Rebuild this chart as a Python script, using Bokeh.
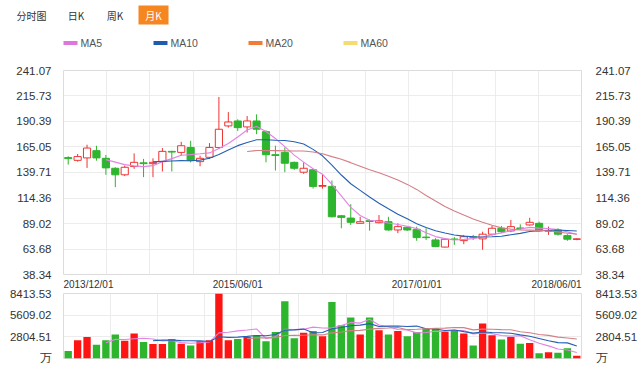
import pandas as pd
from bokeh.plotting import figure
from bokeh.layouts import column
from bokeh.models import ColumnDataSource, FixedTicker, LinearAxis, Range1d, NumeralTickFormatter
from bokeh.core.properties import value
from bokeh.embed import file_html
from bokeh.resources import INLINE

# ---------------- data ----------------
months = [d.strftime("%Y/%m/%d") for d in pd.date_range("2013-12-01", "2018-06-01", freq="MS")]
x_tick_labels = ["2013/12/01", "2015/06/01", "2017/01/01", "2018/06/01"]
price_ticks = [38.34, 63.68, 89.02, 114.36, 139.71, 165.05, 190.39, 215.73, 241.07]
volume_ticks = [0, 2804.51, 5609.02, 8413.53]
tabs = ["分时图", "日K", "周K", "月K"]
ma_names = ["MA5", "MA10", "MA20", "MA60"]

open_ = [154.5, 151.8, 154.2, 161.4, 153.8, 143.9, 137.4, 145.6, 149.3, 148.5,
         150.5, 160.7, 159.7, 164.6, 150.5, 154.8, 164.6, 186.0, 190.9, 185.0,
         190.9, 180.3, 157.4, 159.7, 149.8, 140.0, 142.4, 126.0, 125.9, 96.7,
         94.4, 89.2, 91.8, 89.8, 90.8, 82.6, 85.3, 83.3, 75.5, 72.7,
         65.6, 73.6, 72.0, 75.9, 73.7, 78.4, 84.3, 81.6, 84.6, 87.6,
         89.2, 81.4, 82.6, 77.0, 73.2]
high = [155.8, 158.1, 167.3, 166.3, 157.1, 144.9, 146.6, 158.7, 153.2, 153.8,
        164.0, 161.3, 170.2, 171.2, 156.4, 168.9, 214.8, 199.7, 192.6, 195.8,
        197.5, 181.7, 166.3, 164.6, 150.5, 149.8, 143.4, 137.7, 131.8, 97.4,
        108.2, 95.7, 93.1, 97.4, 95.7, 89.2, 85.9, 85.9, 84.3, 74.4,
        74.4, 75.5, 77.7, 77.7, 80.9, 86.9, 86.6, 92.5, 88.2, 94.7,
        90.8, 85.9, 84.3, 78.4, 74.4]
low = [147.6, 150.5, 144.3, 151.5, 137.4, 125.2, 136.1, 143.3, 135.1, 135.1,
       140.7, 140.7, 156.4, 149.8, 145.9, 153.2, 163.0, 184.3, 181.0, 179.4,
       177.8, 149.8, 141.7, 140.0, 142.3, 138.4, 123.7, 123.7, 95.1, 84.3,
       87.6, 89.2, 81.9, 89.2, 81.9, 79.4, 81.6, 71.8, 72.7, 65.5,
       65.2, 67.8, 68.5, 72.7, 62.9, 77.0, 79.4, 80.4, 82.6, 86.9,
       80.9, 77.7, 77.0, 71.8, 72.4]
close = [153.5, 155.5, 164.0, 154.2, 144.3, 137.4, 144.9, 149.8, 148.5, 149.8,
         160.7, 160.0, 166.3, 151.5, 153.8, 164.6, 182.7, 189.9, 184.3, 190.9,
         182.7, 157.4, 156.6, 148.9, 143.9, 143.9, 125.9, 126.8, 95.7, 95.1,
         90.2, 90.8, 91.0, 91.8, 82.6, 85.9, 82.6, 75.0, 75.0, 66.1,
         73.4, 73.1, 75.9, 75.3, 78.4, 84.3, 80.9, 85.9, 84.0, 90.2,
         81.6, 81.9, 78.4, 73.4, 73.8]
volume = [983, 2352, 2791, 1781, 2352, 3110, 2312, 3243, 2126, 1861,
          1861, 2525, 1914, 1688, 2219, 2352, 8413.53, 2352, 2525, 2791,
          3017, 2219, 3416, 7403, 2618, 3323, 3548, 2884, 7310, 4306,
          5316, 3110, 5316, 3641, 3110, 3548, 2884, 3416, 3907, 3907,
          3455, 3641, 3243, 1688, 4519, 3017, 2445, 2791, 1914, 1994,
          665, 797, 758, 1329, 359]

ma5 = [152.5, 150.0, 147.5, 146.3, 145.5, 146.5, 150.5, 153.5, 156.8, 157.5,
       158.3, 159.2, 163.5, 168.5, 175.0, 182.0, 185.5, 180.5, 173.5, 165.5,
       157.0, 150.0, 143.5, 138.0, 128.0, 116.5, 105.0, 97.0, 92.3, 91.3,
       89.5, 88.0, 86.3, 84.0, 79.8, 76.0, 74.0, 72.7, 73.2, 74.0,
       75.6, 77.9, 79.7, 81.8, 83.5, 85.2, 84.4, 84.0, 82.9, 80.7, 78.1]
ma10 = [150.3, 150.8, 151.2, 151.5, 151.4, 152.0, 153.8, 157.5, 162.0, 166.4,
        169.5, 172.2, 172.3, 171.7, 171.5, 170.3, 168.0, 162.7, 156.3, 147.0,
        137.2, 128.5, 121.9, 115.3, 109.2, 103.7, 98.3, 93.7, 88.8, 85.0,
        81.8, 79.5, 77.6, 76.5, 75.8, 75.6, 75.9, 76.4, 77.8, 79.2,
        81.0, 81.8, 82.3, 82.4, 82.1, 81.5]
ma20 = [160.5, 161.5, 161.6, 161.4, 161.2, 161.0, 161.0, 160.0, 158.3, 155.5,
        152.8, 149.5, 146.0, 142.5, 139.4, 136.0, 132.3, 127.9, 122.9, 116.9,
        111.3, 106.0, 101.5, 97.4, 93.6, 90.3, 87.2, 84.7, 83.4, 82.6,
        82.4, 82.2, 81.6, 80.5, 79.3, 78.6]
vol_ma5 = [2052, 2477, 2469, 2560, 2629, 2530, 2281, 2323, 2057, 1970,
           2041, 2140, 3317, 3405, 3572, 3687, 3820, 2581, 2794, 3769,
           3735, 3796, 4062, 3955, 3937, 4274, 4673, 4585, 5072, 4338,
           4099, 3745, 3700, 3320, 3373, 3532, 3514, 3665, 3631, 3187,
           3309, 3222, 2982, 2892, 2937, 2432, 1962, 1632, 1226, 1109, 782]
vol_ma10 = [2291, 2379, 2396, 2309, 2299, 2286, 2210, 2820, 2731, 2771,
            2864, 2980, 2949, 3099, 3671, 3711, 3808, 3321, 3374, 3853,
            4004, 4234, 4323, 4513, 4137, 4186, 4209, 4143, 4196, 3855,
            3816, 3629, 3683, 3475, 3280, 3421, 3368, 3324, 3261, 3062,
            2871, 2592, 2307, 2059, 2023, 1607]
vol_ma20 = [2578, 2679, 2673, 2704, 2985, 2998, 3009, 3071, 3053, 3312,
            3434, 3607, 3636, 3806, 3904, 3949, 4008, 3732, 3785, 3854,
            3910, 3932, 4003, 3994, 3709, 3804, 3788, 3733, 3729, 3459,
            3343, 3111, 2995, 2767, 2651, 2514]

# ---------------- styles ----------------
RED_LINE = "#ee3333"
RED_BAR = "#ff1414"
GREEN = "#2db52d"
C_MA5 = "#e383e3"
C_MA10 = "#2360b3"
C_MA20 = "#d47f86"
LEG_COLORS = ["#dd77dd", "#1f5cb0", "#f27b35", "#f6da73"]
GRID = "#ececec"
OUTLINE = "#dcdcdc"
LABEL = "#333333"
FONT = "Liberation Sans"
W = 640

n = len(close)
xs = list(range(n))
up = [c >= o for o, c in zip(open_, close)]
src = ColumnDataSource(dict(
    x=xs, high=high, low=low,
    top=[max(o, c) for o, c in zip(open_, close)],
    bottom=[min(o, c) for o, c in zip(open_, close)],
    fill=["#ffffff" if u else GREEN for u in up],
    line=[RED_LINE if u else GREEN for u in up],
    vol=volume,
    vcol=[RED_BAR if u else GREEN for u in up],
))

def style_axis(ax, standoff, size="11.5px"):
    ax.axis_line_color = None
    ax.major_tick_line_color = None
    ax.minor_tick_line_color = None
    ax.major_label_standoff = standoff
    ax.major_label_text_font = FONT
    ax.major_label_text_font_size = size
    ax.major_label_text_color = LABEL

# ---------------- header ----------------
hdr = figure(width=W, height=61, x_range=Range1d(0, W), y_range=Range1d(61, 0),
             output_backend="svg", toolbar_location=None, min_border=0,
             x_axis_location=None, y_axis_location=None, outline_line_color=None)
hdr.frame_align = False
hdr.grid.visible = False
hdr.quad(left=[138], right=[168], top=[5], bottom=[24], fill_color="#f6861f", line_color=None)
tab_x = [31, 75.5, 114.5, 153]
tab_col = ["#333333", "#333333", "#333333", "#ffffff"]
hdr.text(x=tab_x, y=[14.8] * 4, text=tabs, text_color=tab_col, text_font=value("Noto Sans CJK SC"),
         text_font_size="10px", text_align="center", text_baseline="middle")
sw_x = [63, 153, 248, 343]
hdr.quad(left=sw_x, right=[s + 14 for s in sw_x], top=[40.5] * 4, bottom=[44.5] * 4,
         fill_color=LEG_COLORS, line_color=None)
hdr.text(x=[s + 17 for s in sw_x], y=[42.6] * 4, text=ma_names, text_color="#555555",
         text_font=value(FONT), text_font_size="10.5px", text_align="left", text_baseline="middle")

# ---------------- main price chart ----------------
p = figure(width=W, height=231, x_range=Range1d(-0.5, n - 0.5),
           y_range=Range1d(price_ticks[0], price_ticks[-1]),
           output_backend="svg", toolbar_location=None,
           min_border_left=63, min_border_right=59, min_border_top=9, min_border_bottom=16)
p.outline_line_color = OUTLINE
p.xgrid.ticker = FixedTicker(ticks=[-0.5 + k * n / 12 for k in range(1, 12)])
p.ygrid.ticker = FixedTicker(ticks=price_ticks)
p.grid.grid_line_color = GRID

p.yaxis.ticker = FixedTicker(ticks=price_ticks)
p.yaxis.formatter = NumeralTickFormatter(format="0.00")
style_axis(p.yaxis[0], 6)
ry = LinearAxis(ticker=FixedTicker(ticks=price_ticks), formatter=NumeralTickFormatter(format="0.00"))
style_axis(ry, 8)
p.add_layout(ry, "right")

label_pos = [months.index(l) for l in x_tick_labels]
label_pos[0] += 2.15
label_pos[-1] -= 2.15
p.xaxis.ticker = FixedTicker(ticks=label_pos)
p.xaxis.major_label_overrides = {pos: lab for pos, lab in zip(label_pos, x_tick_labels)}
style_axis(p.xaxis[0], -2, "10px")

p.segment(x0="x", y0="high", x1="x", y1="low", color="line", line_width=1, source=src)
p.vbar(x="x", top="top", bottom="bottom", width=0.76, fill_color="fill", line_color="line",
       line_width=1, source=src)
p.line(xs[4:], ma5, color=C_MA5, line_width=1.1)
p.line(xs[9:], ma10, color=C_MA10, line_width=1.1)
p.line(xs[19:], ma20, color=C_MA20, line_width=1.1)

# ---------------- volume chart ----------------
v = figure(width=W, height=80, x_range=p.x_range, y_range=Range1d(0, volume_ticks[-1]),
           output_backend="svg", toolbar_location=None,
           min_border_left=63, min_border_right=59, min_border_top=10, min_border_bottom=5,
           x_axis_location=None, margin=(-9, 0, 0, 0))
v.border_fill_alpha = 0
v.outline_line_color = OUTLINE
v.xgrid.ticker = FixedTicker(ticks=[-0.5 + k * 5 for k in range(1, 11)])
v.ygrid.ticker = FixedTicker(ticks=volume_ticks)
v.grid.grid_line_color = GRID
v.yaxis.ticker = FixedTicker(ticks=volume_ticks)
v.yaxis.formatter = NumeralTickFormatter(format="0.00")
v.yaxis.major_label_overrides = {0: "万"}
style_axis(v.yaxis[0], 6)
rv = LinearAxis(ticker=FixedTicker(ticks=volume_ticks), formatter=NumeralTickFormatter(format="0.00"),
                major_label_overrides={0: "万"})
style_axis(rv, 8)
v.add_layout(rv, "right")

v.vbar(x="x", top="vol", bottom=0, width=0.78, fill_color="vcol", line_color=None, source=src)
v.line(xs[4:], vol_ma5, color=C_MA5, line_width=1.1)
v.line(xs[9:], vol_ma10, color=C_MA10, line_width=1.1)
v.line(xs[19:], vol_ma20, color=C_MA20, line_width=1.1)

layout = column(hdr, p, v, spacing=0)
open("out.html", "w").write(file_html(layout, INLINE))
